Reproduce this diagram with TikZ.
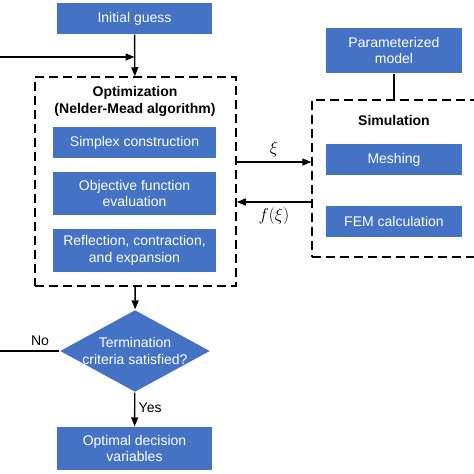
\documentclass[tikz,border=0pt]{standalone}
\usepackage{fontspec}
\setmainfont{Liberation Sans}
\usepackage{tikz}
\usetikzlibrary{shapes.geometric,arrows.meta}
\definecolor{boxblue}{HTML}{4472C4}

\begin{document}
\begin{tikzpicture}[x=1pt,y=-1pt,
    box/.style={fill=boxblue,text=white,align=center,inner sep=0pt},
    dashbox/.style={draw,line width=1.5pt,dash pattern=on 9pt off 5pt},
    >={Triangle[length=9pt,width=7pt]}]
    \useasboundingbox (0,0) rectangle (474,474);
    \clip (0,0) rectangle (474,474);
    \begin{scope}[line width=1.4pt,font=\fontsize{14}{16.5}\selectfont]

    % optimization side
    \node [box,minimum width=155pt,minimum height=31pt] (init) at (134.5,18.5) {Initial guess};
    \node [dashbox,minimum width=201pt,minimum height=209pt] (opt) at (135.5,181.5) {};
    \node [align=center,font=\fontsize{14}{16.5}\selectfont\bfseries] (optlbl) at (135,101.5) {Optimization\\(Nelder-Mead algorithm)};
    \node [box,minimum width=163pt,minimum height=31pt] (simplex) at (134.5,142.5) {Simplex construction};
    \node [box,minimum width=163pt,minimum height=43pt] (objfun) at (134.5,193.5) {Objective function\\evaluation};
    \node [box,minimum width=163pt,minimum height=43pt] (reflect) at (134.5,250.5) {Reflection, contraction,\\and expansion};
    \node [diamond,fill=boxblue,minimum width=150pt,minimum height=82pt,inner sep=0pt] (term) at (135,351) {};
    \node [text=white,align=center] (termlbl) at (term) {Termination\\criteria satisfied?};
    \node [box,minimum width=155pt,minimum height=43pt] (optimal) at (134.5,448.5) {Optimal decision\\variables};

    % simulation side
    \node [box,minimum width=136pt,minimum height=45pt] (param) at (394,50.5) {Parameterized\\model};
    \node [dashbox,minimum width=180pt,minimum height=157pt] (sim) at (402,178.5) {};
    \node [font=\fontsize{14}{16.5}\selectfont\bfseries] (simlbl) at (394,120) {Simulation};
    \node [box,minimum width=136pt,minimum height=31pt] (mesh) at (394,159.5) {Meshing};
    \node [box,minimum width=136pt,minimum height=31pt] (fem) at (394,221.5) {FEM calculation};

    % connectors
    \coordinate (join) at (134.5,57);
    \coordinate (loop) at (-10,351);
    \draw [->] (init) -- (opt);
    \draw [->] (term.west) -- (loop) |- (join);
    \node (no) at (40,341) {No};
    \draw [->] (opt) -- (term);
    \draw [->] (term) -- (optimal) node [pos=0.45,right] {Yes};
    \draw (param.south) -- (param.south |- sim.north);
    \draw [->] (opt.east |- 0,162) -- (sim.west |- 0,162) node [midway,above=1pt,font=\fontsize{17}{20}\selectfont] {$\xi$};
    \draw [->] (sim.west |- 0,202) -- (opt.east |- 0,202) node [midway,below=2pt,font=\fontsize{17}{20}\selectfont] {$f(\xi)$};
    \end{scope}
\end{tikzpicture}
\end{document}
